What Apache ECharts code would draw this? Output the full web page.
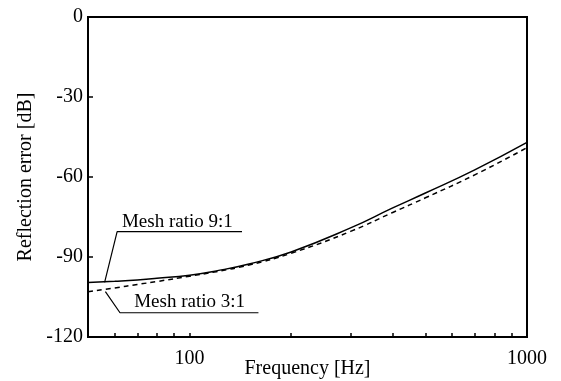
<!DOCTYPE html>
<html>
<head>
<meta charset="utf-8">
<script src="https://cdn.jsdelivr.net/npm/echarts@6/dist/echarts.min.js"></script>
<style>
  html, body { margin: 0; padding: 0; background: #fff; }
  #main { width: 561px; height: 381px; }
</style>
</head>
<body>
<div id="main"></div>
<script>
// frequency [Hz] and reflection error [dB]
var freqs = [50, 60, 70, 80, 100, 120, 150, 200, 300, 400, 500, 700, 1000];
var ratio91 = [-99.6, -99.1, -98.6, -98.0, -96.8, -95.2, -92.6, -88.1, -79.1, -71.6, -66.0, -57.3, -47.0];
var ratio31 = [-103.0, -101.6, -100.3, -99.2, -97.2, -95.5, -93.0, -88.6, -80.4, -73.3, -67.8, -59.2, -49.0];

var xLabels = [100, 1000];
var xTicks = [60, 70, 80, 90, 100, 200, 300, 400, 500, 600, 700, 800, 900];

// leader lines for the two callouts (data coords)
var leader91 = [[56, -99.5], [61, -80.5], [143, -80.5]];
var leader31 = [[56.3, -103], [62.2, -110.9], [160, -110.9]];
var label91 = { text: 'Mesh ratio 9:1', at: [92, -77.0] };
var label31 = { text: 'Mesh ratio 3:1', at: [100, -106.7] };

var serif = '"Liberation Serif", "Times New Roman", serif';

function pairs(xs, ys) {
    var out = [];
    for (var i = 0; i < xs.length; i++) {
        out.push([xs[i], ys[i]]);
    }
    return out;
}

var myChart = echarts.init(document.getElementById('main'));
var option = {
    animation: false,
    backgroundColor: '#fff',
    grid: {
        left: 88,
        right: 34,
        top: 17,
        bottom: 44,
        outerBoundsMode: 'none',
        containLabel: false,
        show: true,
        borderColor: '#000',
        borderWidth: 2
    },
    xAxis: {
        type: 'log',
        logBase: 10,
        min: 50,
        max: 1000,
        position: 'bottom',
        name: 'Frequency [Hz]',
        nameLocation: 'middle',
        nameGap: 22,
        nameMoveOverlap: false,
        nameTextStyle: { fontFamily: serif, fontSize: 20, color: '#000', verticalAlign: 'top' },
        axisLine: { show: true, onZero: false, lineStyle: { color: '#000', width: 2 } },
        axisTick: {
            show: true,
            inside: true,
            length: 4,
            customValues: xTicks,
            lineStyle: { color: '#000', width: 1.5 }
        },
        axisLabel: {
            customValues: xLabels,
            margin: 12,
            fontFamily: serif,
            fontSize: 20,
            color: '#000',
            formatter: function(v) {
                return String(Math.round(v));
            }
        },
        splitLine: { show: false },
        minorTick: { show: false }
    },
    yAxis: {
        type: 'value',
        min: -120,
        max: 0,
        interval: 30,
        position: 'left',
        name: 'Reflection error [dB]',
        nameLocation: 'middle',
        nameGap: 52,
        nameMoveOverlap: false,
        nameTextStyle: { fontFamily: serif, fontSize: 20, color: '#000' },
        axisLine: { show: true, onZero: false, lineStyle: { color: '#000', width: 2 } },
        axisTick: { show: true, inside: true, length: 5, lineStyle: { color: '#000', width: 1.5 } },
        axisLabel: { margin: 5, fontFamily: serif, fontSize: 20, color: '#000' },
        splitLine: { show: false }
    },
    series: [{
        name: 'Mesh ratio 9:1',
        type: 'line',
        data: pairs(freqs, ratio91),
        smooth: true,
        showSymbol: false,
        lineStyle: { color: '#000', width: 1.5, type: 'solid' }
    }, {
        name: 'Mesh ratio 3:1',
        type: 'line',
        data: pairs(freqs, ratio31),
        smooth: true,
        showSymbol: false,
        lineStyle: { color: '#000', width: 1.5, type: [5, 4] }
    }, {
        type: 'line',
        data: leader91,
        showSymbol: false,
        silent: true,
        lineStyle: { color: '#000', width: 1.2 },
        markPoint: {
            symbol: 'circle',
            symbolSize: 0,
            silent: true,
            label: {
                show: true,
                position: 'inside',
                formatter: label91.text,
                fontFamily: serif,
                fontSize: 19,
                color: '#000'
            },
            data: [{ coord: label91.at }]
        }
    }, {
        type: 'line',
        data: leader31,
        showSymbol: false,
        silent: true,
        lineStyle: { color: '#000', width: 1.2 },
        markPoint: {
            symbol: 'circle',
            symbolSize: 0,
            silent: true,
            label: {
                show: true,
                position: 'inside',
                formatter: label31.text,
                fontFamily: serif,
                fontSize: 19,
                color: '#000'
            },
            data: [{ coord: label31.at }]
        }
    }]
};
myChart.setOption(option);
</script>
</body>
</html>
